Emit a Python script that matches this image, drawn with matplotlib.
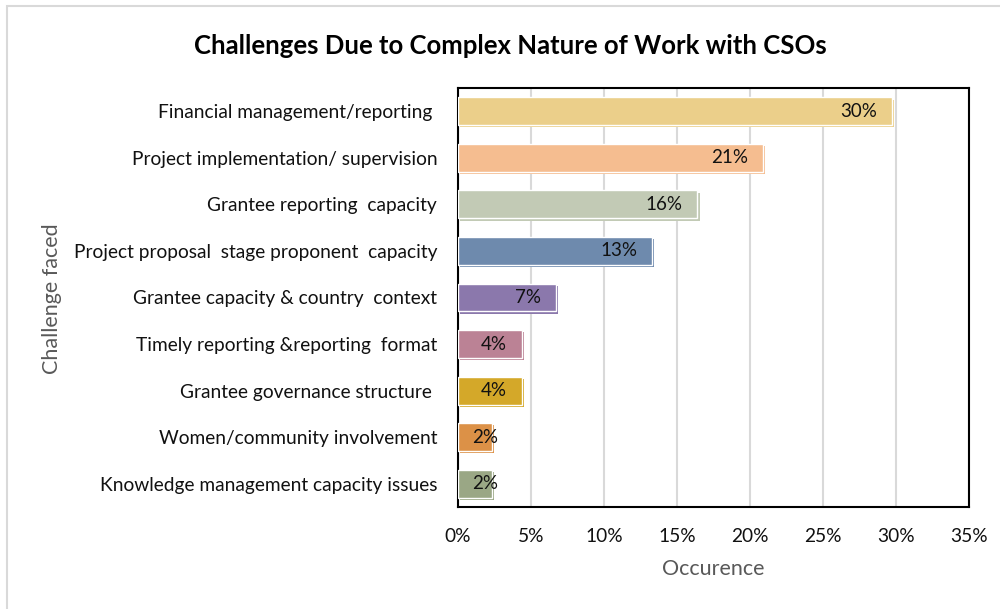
import matplotlib.pyplot as plt
import matplotlib.patheffects as pe
from matplotlib.patches import Rectangle
from matplotlib.ticker import PercentFormatter

plt.rcParams["font.family"] = ["Lato", "DejaVu Sans"]

# challenge categories, top to bottom
challenges = [
    "Financial management/reporting ",
    "Project implementation/ supervision",
    "Grantee reporting  capacity",
    "Project proposal  stage proponent  capacity",
    "Grantee capacity & country  context",
    "Timely reporting &reporting  format",
    "Grantee governance structure ",
    "Women/community involvement",
    "Knowledge management capacity issues",
]
occurrence = [29.7, 20.9, 16.4, 13.3, 6.7, 4.4, 4.4, 2.3, 2.3]
bar_colors = ["#EBCF8A", "#F5BD90", "#C2CAB5", "#6E8AAD", "#8B78AC",
              "#BB8295", "#D4A829", "#DC9147", "#9AA785"]
x_ticks = [0, 5, 10, 15, 20, 25, 30, 35]

fig = plt.figure(figsize=(10, 6.09), dpi=100)
ax = fig.add_axes([0.458, 0.1675, 0.511, 0.688])

# light chart-area border (left and top edges visible)
fig.patches.append(Rectangle((0.007, -0.1), 1.2, 1.09, transform=fig.transFigure,
                             fill=False, edgecolor="#D9D9D9", linewidth=1.5))

ypos = list(range(len(challenges)))
for y, val, col in zip(ypos, occurrence, bar_colors):
    ax.barh(y, val, height=0.6, color=col, edgecolor="white", linewidth=1.0,
            zorder=3,
            path_effects=[pe.SimplePatchShadow(offset=(1.6, -1.6),
                                               shadow_rgbFace=col, alpha=1.0),
                          pe.Normal()])
    if val < 3:
        ax.annotate(f"{val:.0f}%", (0, y), xytext=(14, 0), textcoords="offset pixels",
                    ha="left", va="center", fontsize=13.5, color="#111111", zorder=4)
    else:
        ax.annotate(f"{val:.0f}%", (val, y), xytext=(-15, 0), textcoords="offset pixels",
                    ha="right", va="center", fontsize=13.5, color="#111111", zorder=4)

ax.set_xlim(0, 35)
ax.set_ylim(len(challenges) - 0.5, -0.5)
ax.set_xticks(x_ticks)
ax.xaxis.set_major_formatter(PercentFormatter(decimals=0))
ax.set_yticks(ypos)
ax.set_yticklabels(challenges)
ax.tick_params(axis="both", length=0, labelsize=13.8, colors="#111111")
ax.tick_params(axis="x", pad=15)
ax.tick_params(axis="y", pad=15)
ax.grid(axis="x", color="#D9D9D9", linewidth=1.5, zorder=0)
ax.set_axisbelow(True)
for sp in ax.spines.values():
    sp.set_color("black")
    sp.set_linewidth(1.5)

ax.set_xlabel("Occurence", fontsize=15.5, color="#595959", labelpad=10)
fig.text(0.052, 0.51, "Challenge faced", rotation=90, ha="center", va="center",
         fontsize=15.5, color="#595959")
fig.text(0.51, 0.925, "Challenges Due to Complex Nature of Work with CSOs",
         ha="center", va="center", fontsize=18.5, fontweight="bold", color="black")

fig.savefig("out.png", dpi=100)
